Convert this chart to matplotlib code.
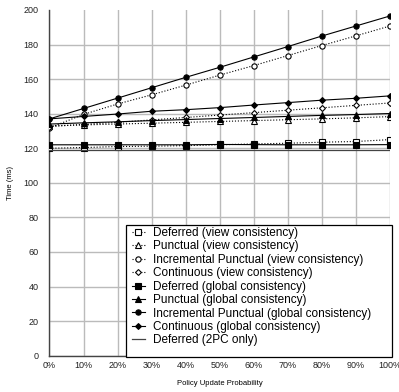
import matplotlib
matplotlib.use("Agg")
import matplotlib.pyplot as plt
from matplotlib.patches import Rectangle

plt.rcParams["font.family"] = ["Liberation Sans", "DejaVu Sans"]

# x axis: policy update probability (%)
probability = [0, 10, 20, 30, 40, 50, 60, 70, 80, 90, 100]
tick_labels = [f"{p}%" for p in probability]

# response time (ms)
deferred_view = [120.0, 120.4, 121.0, 121.2, 121.5, 122.0, 122.5, 122.9, 123.5, 123.9, 125.0]
punctual_view = [133.0, 133.5, 134.0, 134.5, 135.0, 135.5, 136.0, 136.5, 137.0, 137.6, 138.3]
incr_punctual_view = [131.8, 139.6, 145.6, 150.9, 156.5, 162.3, 167.8, 173.6, 179.4, 185.0, 190.7]
continuous_view = [132.5, 133.8, 135.0, 136.4, 137.8, 139.2, 140.6, 142.0, 143.4, 144.8, 146.2]
deferred_global = [122.0, 122.0, 122.0, 122.0, 122.0, 122.2, 122.1, 122.0, 122.0, 122.0, 122.1]
punctual_global = [134.0, 134.7, 135.3, 136.0, 136.6, 137.2, 137.8, 138.4, 139.0, 139.5, 140.1]
incr_punctual_global = [137.0, 143.0, 149.0, 155.0, 161.0, 166.8, 172.8, 178.8, 184.9, 190.7, 196.5]
continuous_global = [137.0, 138.4, 139.8, 141.4, 142.3, 143.5, 145.0, 146.4, 147.8, 148.9, 150.3]
deferred_2pc = [119.0] * len(probability)

series = [
    ("Deferred (view consistency)", deferred_view, "s", "white", ":"),
    ("Punctual (view consistency)", punctual_view, "^", "white", ":"),
    ("Incremental Punctual (view consistency)", incr_punctual_view, "o", "white", ":"),
    ("Continuous (view consistency)", continuous_view, "D", "white", ":"),
    ("Deferred (global consistency)", deferred_global, "s", "black", "-"),
    ("Punctual (global consistency)", punctual_global, "^", "black", "-"),
    ("Incremental Punctual (global consistency)", incr_punctual_global, "o", "black", "-"),
    ("Continuous (global consistency)", continuous_global, "D", "black", "-"),
]

fig = plt.figure(figsize=(3.99, 3.92), dpi=100)
ax = fig.add_axes([0.124, 0.0926, 0.853, 0.882])

for label, values, marker, face, ls in series:
    ms = 3.0 if marker == "D" else 3.8
    ax.plot(probability, values, linestyle=ls, color="black", linewidth=0.8,
            marker=marker, markersize=ms, markerfacecolor=face,
            markeredgecolor="black", markeredgewidth=0.8, label=label, zorder=3)

ax.plot(probability, deferred_2pc, color="#444444", linewidth=0.9,
        label="Deferred (2PC only)", zorder=3)

ax.set_xlim(0, 100)
ax.set_ylim(0, 200)
ax.set_xticks(probability)
ax.set_xticklabels(tick_labels)
ax.set_yticks(range(0, 201, 20))
ax.tick_params(axis="both", labelsize=6.5, length=0, colors="#222222")
ax.tick_params(axis="x", pad=4)
ax.tick_params(axis="y", pad=8)
ax.grid(True, color="#bbbbbb", linewidth=1.0)
ax.get_ygridlines()[-1].set_visible(False)
ax.set_axisbelow(True)
for side in ("top", "right"):
    ax.spines[side].set_visible(False)
for side in ("left", "bottom"):
    ax.spines[side].set_color("#444444")
    ax.spines[side].set_linewidth(1.0)

ax.set_xlabel("Policy Update Probability", fontsize=5.5, labelpad=7)
ax.set_ylabel("Time (ms)", fontsize=5.5, labelpad=7)

# legend box drawn separately so its padding matches the original
box = Rectangle((126 / 399, 1 - 357 / 392), 266 / 399, 132 / 392,
                transform=fig.transFigure, facecolor="white", edgecolor="black",
                linewidth=0.9, zorder=4)
fig.patches.append(box)

leg = fig.legend(*ax.get_legend_handles_labels(), loc="upper left",
                 bbox_to_anchor=(132 / 399, 1 - 227 / 392), bbox_transform=fig.transFigure,
                 fontsize=8.5, frameon=False, handlelength=1.1, handletextpad=0.7,
                 labelspacing=0.12, borderpad=0.0, borderaxespad=0.0, numpoints=1)
leg.set_zorder(5)

fig.savefig("out.png", dpi=100)
